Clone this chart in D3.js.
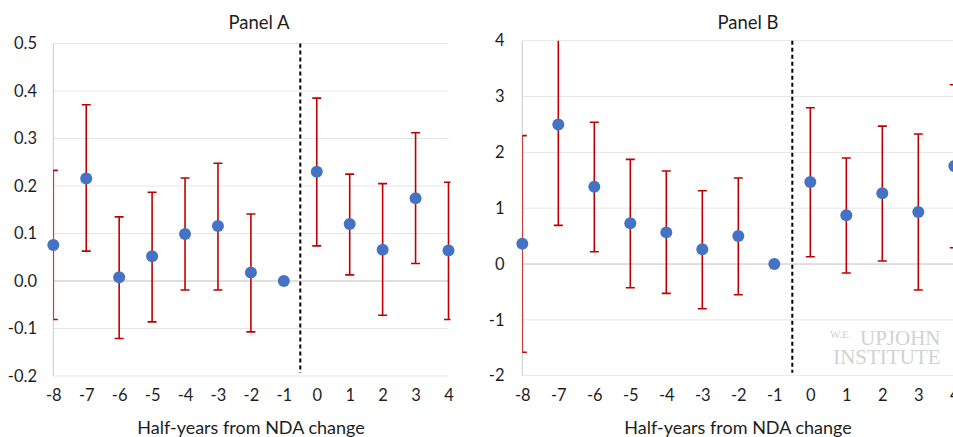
<!DOCTYPE html>
<html>
<head>
<meta charset="utf-8">
<script src="https://cdn.jsdelivr.net/npm/d3@7"></script>
<style>
  html, body { margin: 0; padding: 0; background: #fff; }
  svg { display: block; font-family: Lato, "Open Sans", sans-serif; }
</style>
</head>
<body>
<svg id="chart" width="953" height="437"></svg>
<script>
// Half-years relative to the NDA change
const halfYears = [-8, -7, -6, -5, -4, -3, -2, -1, 0, 1, 2, 3, 4];

// Panel A: point estimates and confidence bounds
const estA = [0.076, 0.216, 0.008, 0.052, 0.099, 0.116, 0.018, 0, 0.230, 0.120, 0.066, 0.174, 0.064];
const loA  = [-0.081, 0.063, -0.121, -0.086, -0.019, -0.019, -0.107, 0, 0.074, 0.013, -0.072, 0.037, -0.081];
const hiA  = [0.233, 0.371, 0.135, 0.187, 0.217, 0.248, 0.141, 0, 0.385, 0.225, 0.205, 0.312, 0.208];
const ticksA = [-0.2, -0.1, 0, 0.1, 0.2, 0.3, 0.4, 0.5];

// Panel B: point estimates and confidence bounds
const estB = [0.364, 2.50, 1.385, 0.729, 0.567, 0.263, 0.50, 0, 1.469, 0.872, 1.266, 0.931, 1.755];
const loB  = [-1.58, 0.693, 0.22, -0.424, -0.525, -0.80, -0.55, 0, 0.131, -0.161, 0.054, -0.466, 0.292];
const hiB  = [2.30, 4.30, 2.54, 1.875, 1.666, 1.313, 1.54, 0, 2.80, 1.90, 2.47, 2.33, 3.21];
const ticksB = [-2, -1, 0, 1, 2, 3, 4];

const svg = d3.select("#chart");
const textColor = "#1e1e1e";

function drawPanel(id, cfg) {
  const x = d3.scaleLinear().domain([-8, 4]).range([cfg.left, cfg.right]);
  const y = d3.scaleLinear().domain(cfg.yDomain).range([cfg.bottom, cfg.top]);

  const g = svg.append("g").attr("id", id);

  // clip so that bars/caps stay inside the plot area
  svg.append("clipPath").attr("id", id + "-clip")
    .append("rect")
    .attr("x", cfg.left)
    .attr("y", cfg.top)
    .attr("width", cfg.right - cfg.left + 2)
    .attr("height", cfg.bottom - cfg.top);

  // gridlines
  g.append("g").selectAll("line")
    .data(cfg.ticks.filter(t => t !== 0))
    .enter().append("line")
    .attr("x1", cfg.left).attr("x2", cfg.right)
    .attr("y1", d => y(d)).attr("y2", d => y(d))
    .attr("stroke", "#e6e6e6").attr("stroke-width", 1);

  // zero line
  g.append("line")
    .attr("x1", cfg.left).attr("x2", cfg.right)
    .attr("y1", y(0)).attr("y2", y(0))
    .attr("stroke", "#bfbfbf").attr("stroke-width", 1);

  // vertical axis line
  g.append("line")
    .attr("x1", cfg.left).attr("x2", cfg.left)
    .attr("y1", cfg.top).attr("y2", cfg.bottom)
    .attr("stroke", "#c8c8c8").attr("stroke-width", 1);

  // y axis labels
  const yAxis = d3.axisLeft(y)
    .tickValues(cfg.ticks)
    .tickSize(0)
    .tickPadding(0)
    .tickFormat(cfg.fmt);
  g.append("g")
    .attr("transform", `translate(${cfg.labelRight}, 0)`)
    .call(yAxis)
    .call(a => a.select(".domain").remove())
    .selectAll("text")
    .attr("fill", textColor)
    .style("font-size", "16.5px")
    .style("font-family", "Lato, 'Open Sans', sans-serif");

  // x axis labels
  const xAxis = d3.axisBottom(x)
    .tickValues(halfYears)
    .tickSize(0)
    .tickPadding(0)
    .tickFormat(d => String(d));
  g.append("g")
    .attr("transform", `translate(0, 389)`)
    .call(xAxis)
    .call(a => a.select(".domain").remove())
    .selectAll("text")
    .attr("fill", textColor)
    .style("font-size", "16.5px")
    .style("font-family", "Lato, 'Open Sans', sans-serif");

  // dashed event line
  g.append("line")
    .attr("x1", x(-0.5)).attr("x2", x(-0.5))
    .attr("y1", cfg.top).attr("y2", cfg.bottom - 3)
    .attr("stroke", "#000").attr("stroke-width", 2)
    .attr("stroke-dasharray", "4,3");

  const rows = halfYears.map((h, i) => ({ h, est: cfg.est[i], lo: cfg.lo[i], hi: cfg.hi[i] }));
  const marks = g.append("g").attr("clip-path", `url(#${id}-clip)`);

  // error bars
  const bars = marks.selectAll("g.err")
    .data(rows.filter(d => d.hi !== d.lo))
    .enter().append("g").attr("class", "err")
    .attr("stroke", "#c00000").attr("stroke-width", 1.6);
  bars.append("line")
    .attr("x1", d => x(d.h)).attr("x2", d => x(d.h))
    .attr("y1", d => y(d.lo)).attr("y2", d => y(d.hi));
  bars.append("line")
    .attr("x1", d => x(d.h) - 4.5).attr("x2", d => x(d.h) + 4.5)
    .attr("y1", d => y(d.hi)).attr("y2", d => y(d.hi));
  bars.append("line")
    .attr("x1", d => x(d.h) - 4.5).attr("x2", d => x(d.h) + 4.5)
    .attr("y1", d => y(d.lo)).attr("y2", d => y(d.lo));

  // points
  g.append("g").selectAll("circle")
    .data(rows)
    .enter().append("circle")
    .attr("cx", d => x(d.h))
    .attr("cy", d => y(d.est))
    .attr("r", 6)
    .attr("fill", "#4472c4");

  // title
  g.append("text")
    .attr("x", cfg.titleX).attr("y", 29)
    .attr("text-anchor", "middle")
    .attr("fill", textColor)
    .style("font-size", "18.5px")
    .text(cfg.title);

  // axis title
  g.append("text")
    .attr("x", cfg.axisTitleX).attr("y", 434)
    .attr("text-anchor", "middle")
    .attr("fill", textColor)
    .style("font-size", "18px")
    .text("Half-years from NDA change");
}

drawPanel("panelA", {
  left: 53.3, right: 448.5, top: 43.5, bottom: 376,
  yDomain: [-0.2, 0.5], ticks: ticksA, fmt: d => d.toFixed(1),
  est: estA, lo: loA, hi: hiA,
  labelRight: 37, title: "Panel A", titleX: 259, axisTitleX: 251
});

drawPanel("panelB", {
  left: 522.3, right: 954.3, top: 40.7, bottom: 375.7,
  yDomain: [-2, 4], ticks: ticksB, fmt: d => String(d),
  est: estB, lo: loB, hi: hiB,
  labelRight: 504.5, title: "Panel B", titleX: 748, axisTitleX: 738
});

// watermark
const wm = svg.append("g")
  .attr("fill", "#d2d2d2")
  .style("font-family", "'Liberation Serif', 'DejaVu Serif', serif");
wm.append("text")
  .attr("x", 830).attr("y", 338)
  .style("font-size", "11px")
  .text("W.E.");
wm.append("text")
  .attr("x", 940.5).attr("y", 345)
  .attr("text-anchor", "end")
  .style("font-size", "21px")
  .text("UPJOHN");
wm.append("text")
  .attr("x", 940.5).attr("y", 363.5)
  .attr("text-anchor", "end")
  .style("font-size", "21px")
  .text("INSTITUTE");
</script>
</body>
</html>
